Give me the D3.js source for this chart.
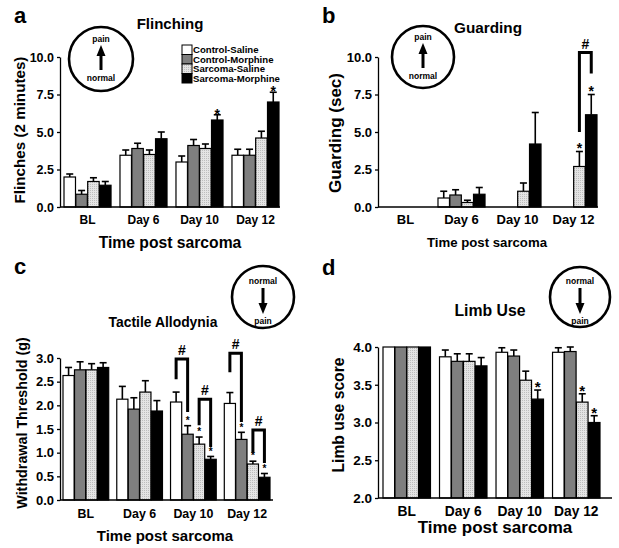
<!DOCTYPE html>
<html><head><meta charset="utf-8">
<script src="https://cdn.jsdelivr.net/npm/d3@7/dist/d3.min.js"></script>
<style>
body{margin:0;background:#fff}
svg text{font-family:"Liberation Sans",Arial,sans-serif;font-weight:bold;fill:#000}
</style></head><body>
<svg id="chart" width="619" height="548"></svg>
<script>
// ---------- data ----------
const groups = ["BL", "Day 6", "Day 10", "Day 12"];
const seriesNames = ["Control-Saline", "Control-Morphine", "Sarcoma-Saline", "Sarcoma-Morphine"];

// rows = time points, columns = series
const flinchMean = [[2.0, 0.85, 1.7, 1.45], [3.45, 3.9, 3.5, 4.55], [3.0, 4.1, 3.9, 5.8], [3.45, 3.45, 4.6, 7.0]];
const flinchSem  = [[0.2, 0.25, 0.25, 0.25], [0.35, 0.35, 0.3, 0.45], [0.4, 0.4, 0.3, 0.35], [0.4, 0.4, 0.45, 0.65]];
const flinchTicks = [0, 2.5, 5, 7.5, 10];
const flinchStars = [[2, 3], [3, 3]];

const guardMean = [[0, 0, 0, 0], [0.6, 0.8, 0.3, 0.85], [0, 0, 1.05, 4.2], [0, 0, 2.7, 6.15]];
const guardSem  = [[0, 0, 0, 0], [0.45, 0.35, 0.15, 0.45], [0, 0, 0.55, 2.1], [0, 0, 1.0, 1.35]];
const guardTicks = [0, 2.5, 5, 7.5, 10];
const guardStars = [[3, 2], [3, 3]];
// [group, leftSeries, rightSeries, leftLegBottom, top, rightLegBottom]
const guardBrackets = [[3, 2, 3, 5.0, 10.3, 8.9]];

const allodMean = [[2.63, 2.75, 2.75, 2.8], [2.13, 1.92, 2.28, 1.88], [2.07, 1.39, 1.18, 0.86], [2.04, 1.28, 0.76, 0.48]];
const allodSem  = [[0.17, 0.17, 0.13, 0.1], [0.27, 0.24, 0.24, 0.22], [0.21, 0.18, 0.15, 0.06], [0.23, 0.15, 0.06, 0.08]];
const allodTicks = [0, 0.5, 1, 1.5, 2, 2.5, 3];
const allodStars = [[2, 1], [2, 2], [2, 3], [3, 1], [3, 2], [3, 3]];
const allodBrackets = [[2, 0, 1, 2.55, 2.98, 1.86], [2, 2, 3, 1.58, 2.13, 1.12], [3, 0, 1, 2.7, 3.1, 1.65], [3, 2, 3, 1.0, 1.48, 0.78]];

const limbMean = [[4, 4, 4, 4], [3.87, 3.81, 3.81, 3.75], [3.93, 3.88, 3.56, 3.31], [3.93, 3.94, 3.27, 3.0]];
const limbSem  = [[0, 0, 0, 0], [0.09, 0.1, 0.1, 0.11], [0.06, 0.08, 0.12, 0.12], [0.06, 0.06, 0.11, 0.09]];
const limbTicks = [2, 2.5, 3, 3.5, 4];
const limbStars = [[2, 3], [3, 2], [3, 3]];

// ---------- drawing ----------
const svg = d3.select("#chart");
const defs = svg.append("defs");
const pat = defs.append("pattern").attr("id", "dots").attr("patternUnits", "userSpaceOnUse")
  .attr("width", 2).attr("height", 2);
pat.append("rect").attr("width", 2).attr("height", 2).attr("fill", "#e4e4e4");
pat.append("rect").attr("width", 1).attr("height", 1).attr("fill", "#bdbdbd");
const fills = ["#ffffff", "#7f7f7f", "url(#dots)", "#000000"];

function panel(c) {
  const g = svg.append("g");
  const x = d3.scaleBand().domain(groups).range(c.band).paddingInner(c.pad);
  const xs = d3.scaleBand().domain(d3.range(seriesNames.length)).range([0, x.bandwidth()]).paddingInner(0.03);
  const y = d3.scaleLinear().domain(c.yDomain).range(c.yRange);
  const base = c.yDomain[0];
  const cx = (gi, si) => x(groups[gi]) + xs(si) + xs.bandwidth() / 2;

  const rows = [];
  groups.forEach((gn, gi) => c.mean[gi].forEach((m, si) => rows.push({gi, si, m, e: c.sem[gi][si]})));
  const vis = rows.filter(d => d.m > base);

  // error bars
  const eb = vis.filter(d => d.e > 0);
  g.selectAll("line.err").data(eb).join("line").attr("class", "err")
    .attr("x1", d => cx(d.gi, d.si)).attr("x2", d => cx(d.gi, d.si))
    .attr("y1", d => y(d.m)).attr("y2", d => y(d.m + d.e))
    .attr("stroke", "#000").attr("stroke-width", 1.6);
  g.selectAll("line.cap").data(eb).join("line").attr("class", "cap")
    .attr("x1", d => cx(d.gi, d.si) - 3.5).attr("x2", d => cx(d.gi, d.si) + 3.5)
    .attr("y1", d => y(d.m + d.e)).attr("y2", d => y(d.m + d.e))
    .attr("stroke", "#000").attr("stroke-width", 1.6);

  // bars
  g.selectAll("rect.bar").data(vis).join("rect").attr("class", "bar")
    .attr("x", d => x(groups[d.gi]) + xs(d.si)).attr("y", d => y(d.m))
    .attr("width", xs.bandwidth()).attr("height", d => y(base) - y(d.m))
    .attr("fill", d => fills[d.si]).attr("stroke", "#000").attr("stroke-width", 1.2);

  // stars
  const starData = c.stars.map(([gi, si]) => ({gi, si, top: c.mean[gi][si] + c.sem[gi][si]}));
  g.selectAll("text.star").data(starData).join("text").attr("class", "star")
    .attr("x", d => cx(d.gi, d.si)).attr("y", d => y(d.top) - c.starGap + c.starSize * 0.62)
    .attr("text-anchor", "middle").attr("font-size", c.starSize).text("*");

  // brackets
  (c.brackets || []).forEach(([gi, s1, s2, lb, top, rb]) => {
    const x1 = cx(gi, s1), x2 = cx(gi, s2);
    g.append("path").attr("d", `M${x1},${y(lb)}V${y(top)}H${x2}V${y(rb)}`)
      .attr("fill", "none").attr("stroke", "#000").attr("stroke-width", 3);
    g.append("text").attr("x", (x1 + x2) / 2).attr("y", y(top) - 4)
      .attr("text-anchor", "middle").attr("font-size", 14).text("#");
  });

  // y axis
  const ya = d3.axisLeft(y).tickValues(c.ticks).tickFormat(d3.format(".1f")).tickSize(3).tickSizeOuter(0).tickPadding(3);
  const yg = g.append("g").attr("transform", `translate(${c.axisX[0]},0)`).call(ya);
  yg.selectAll("path,line").attr("stroke", "#000").attr("stroke-width", 1.3);
  yg.selectAll("text").attr("font-size", c.yTickSize).attr("font-family", null).attr("fill", "#000");

  // x axis
  g.append("line").attr("x1", c.axisX[0]).attr("x2", c.axisX[1])
    .attr("y1", y(base)).attr("y2", y(base)).attr("stroke", "#000").attr("stroke-width", 1.3);
  const xa = d3.axisBottom(x).tickSize(0).tickPadding(c.xTickPad);
  const xg = g.append("g").attr("transform", `translate(0,${y(base)})`).call(xa);
  xg.select(".domain").remove();
  xg.selectAll("text").attr("font-size", c.xTickSize).attr("font-family", null).attr("fill", "#000");

  // titles
  g.append("text").attr("x", c.title[1]).attr("y", c.title[2]).attr("text-anchor", "middle")
    .attr("font-size", c.title[3]).text(c.title[0]);
  g.append("text").attr("x", c.xTitle[1]).attr("y", c.xTitle[2]).attr("text-anchor", "middle")
    .attr("font-size", c.xTitle[3]).text(c.xTitle[0]);
  g.append("text").attr("transform", `translate(${c.yTitle[1]},${c.yTitle[2]}) rotate(-90)`)
    .attr("text-anchor", "middle").attr("font-size", c.yTitle[3]).text(c.yTitle[0]);
  g.append("text").attr("x", c.letter[1]).attr("y", c.letter[2]).attr("font-size", 22).text(c.letter[0]);

  icon(c.icon[0], c.icon[1], c.icon[2], c.icon[3]);
}

function icon(cx, cy, r, up) {
  const g = svg.append("g").attr("transform", `translate(${cx},${cy})`);
  g.append("circle").attr("r", r).attr("fill", "none").attr("stroke", "#000").attr("stroke-width", 2.6);
  if (up) {
    g.append("text").attr("y", -20 + 3).attr("text-anchor", "middle").attr("font-size", 8.5).text("pain");
    g.append("text").attr("y", 19 + 3).attr("text-anchor", "middle").attr("font-size", 8.5).text("normal");
    g.append("line").attr("x1", 0).attr("x2", 0).attr("y1", 11).attr("y2", -5).attr("stroke", "#000").attr("stroke-width", 3);
    g.append("path").attr("d", "M0,-14L4.5,-3L-4.5,-3Z").attr("fill", "#000");
  } else {
    g.append("text").attr("y", -16 + 3).attr("text-anchor", "middle").attr("font-size", 8.5).text("normal");
    g.append("text").attr("y", 24 + 3).attr("text-anchor", "middle").attr("font-size", 8.5).text("pain");
    g.append("line").attr("x1", 0).attr("x2", 0).attr("y1", -9).attr("y2", 8).attr("stroke", "#000").attr("stroke-width", 3);
    g.append("path").attr("d", "M0,17L4.5,6L-4.5,6Z").attr("fill", "#000");
  }
}

panel({
  mean: flinchMean, sem: flinchSem, ticks: flinchTicks, stars: flinchStars,
  band: [64, 279], pad: 0.16, axisX: [60, 280], yDomain: [0, 10], yRange: [207, 57],
  starSize: 14, starGap: 4.5, yTickSize: 12.5, xTickSize: 12, xTickPad: 8,
  title: ["Flinching", 170, 29, 15], xTitle: ["Time post sarcoma", 170, 248, 15.7],
  yTitle: ["Flinches (2 minutes)", 25, 130, 15.2], letter: ["a", 14, 23],
  icon: [101, 59, 32, true]
});
panel({
  mean: guardMean, sem: guardSem, ticks: guardTicks, stars: guardStars, brackets: guardBrackets,
  band: [382, 597], pad: 0.16, axisX: [378, 598], yDomain: [0, 10], yRange: [207, 57],
  starSize: 14, starGap: 7.5, yTickSize: 13, xTickSize: 13, xTickPad: 8,
  title: ["Guarding", 488, 33, 15.3], xTitle: ["Time post sarcoma", 487, 247, 13.2],
  yTitle: ["Guarding (sec)", 341, 133, 17], letter: ["b", 322, 23],
  icon: [423, 57, 31, true]
});
panel({
  mean: allodMean, sem: allodSem, ticks: allodTicks, stars: allodStars, brackets: allodBrackets,
  band: [63, 270], pad: 0.15, axisX: [60, 273], yDomain: [0, 3], yRange: [500, 358],
  starSize: 10, starGap: 8, yTickSize: 13, xTickSize: 12.4, xTickPad: 9,
  title: ["Tactile Allodynia", 163, 327, 13.9], xTitle: ["Time post sarcoma", 165, 541, 15],
  yTitle: ["Withdrawal Threshold  (g)", 27, 423, 14.3], letter: ["c", 14, 274],
  icon: [263, 297, 31, false]
});
panel({
  mean: limbMean, sem: limbSem, ticks: limbTicks, stars: limbStars,
  band: [383, 600], pad: 0.16, axisX: [378, 612], yDomain: [2, 4], yRange: [498, 347],
  starSize: 15, starGap: 7.5, yTickSize: 13.5, xTickSize: 13.8, xTickPad: 8,
  title: ["Limb Use", 490, 316, 15.8], xTitle: ["Time post sarcoma", 495, 533, 17],
  yTitle: ["Limb use score", 344, 415, 15.7], letter: ["d", 322, 275],
  icon: [580, 297, 30, false]
});

// legend (panel a)
const lg = svg.append("g").attr("transform", "translate(182,45)");
lg.selectAll("rect").data(seriesNames).join("rect")
  .attr("x", 0).attr("y", (d, i) => i * 9.5).attr("width", 10).attr("height", 9.5)
  .attr("fill", (d, i) => fills[i]).attr("stroke", "#000").attr("stroke-width", 1);
lg.selectAll("text").data(seriesNames).join("text")
  .attr("x", 11).attr("y", (d, i) => i * 9.5 + 8.2).attr("font-size", 9.6).text(d => d);
</script>
</body></html>
